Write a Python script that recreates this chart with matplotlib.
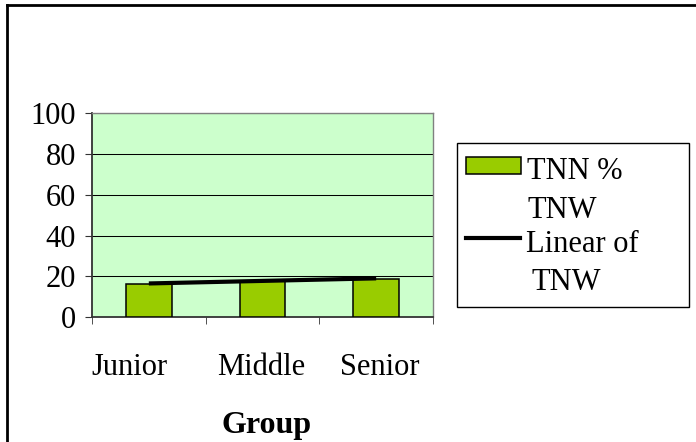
import numpy as np
import matplotlib
matplotlib.use('Agg')
import matplotlib.pyplot as plt
import matplotlib.transforms as mtransforms
from matplotlib.patches import Rectangle
from matplotlib.lines import Line2D

plt.rcParams['font.family'] = ['Liberation Serif', 'DejaVu Serif']

# data
groups = ['Junior', 'Middle', 'Senior']
tnn_pct_tnw = [16.5, 18.0, 19.0]
label_shift_px = [-19, -1, 4]   # Excel spaced the category labels a bit unevenly

W, H = 696, 442
fig = plt.figure(figsize=(W / 100, H / 100), dpi=100)
fig.patch.set_facecolor('white')

def fx(px):
    return px / W

def fy(py):
    return 1 - py / H

# chart area border (left and top visible)
fig.add_artist(Line2D([fx(7), fx(7)], [fy(5), fy(H + 5)], color='black', lw=2))
fig.add_artist(Line2D([fx(7), fx(W + 5)], [fy(5), fy(5)], color='black', lw=2))

ax = fig.add_axes([fx(92), fy(317.3), fx(433) - fx(92), fy(113.2) - fy(317.3)])
ax.set_facecolor('#CCFFCC')

x = np.arange(len(groups))
ax.bar(x, tnn_pct_tnw, width=0.4, color='#99CC00', edgecolor='black', linewidth=1.1, zorder=3)

# linear trend of the bar series
k, b = np.polyfit(x, tnn_pct_tnw, 1)
ax.plot(x[[0, -1]], k * x[[0, -1]] + b, color='black', lw=3, zorder=4, solid_capstyle='butt')

ax.set_xlim(-0.5, len(groups) - 0.5)
ax.set_ylim(0, 100)
ax.set_yticks(np.arange(0, 101, 20))
ax.yaxis.grid(True, color='black', lw=0.75, zorder=1)
ax.set_axisbelow(True)

ax.set_xticks(x)
ax.set_xticklabels(groups)
ax.set_xticks(np.arange(-0.5, len(groups), 1.0), minor=True)
ax.tick_params(axis='x', which='major', length=0, pad=26, labelsize=22)
ax.tick_params(axis='x', which='minor', length=5, direction='out', color='#333333')
ax.tick_params(axis='y', length=5, direction='out', pad=6.5, labelsize=22, color='#333333')

for lab, dx in zip(ax.get_xticklabels(), label_shift_px):
    lab.set_transform(lab.get_transform() + mtransforms.ScaledTranslation(dx / 100, 0, fig.dpi_scale_trans))

for side in ['left', 'bottom']:
    ax.spines[side].set_color('#333333')
    ax.spines[side].set_linewidth(1.3)
for side in ['top', 'right']:
    ax.spines[side].set_color('#808080')
    ax.spines[side].set_linewidth(1.0)

ax.set_xlabel('Group', fontsize=23, fontweight='bold')
ax.xaxis.set_label_coords((267 - 92) / 341, (317.3 - 411) / 204.1)

# legend box
fig.add_artist(Rectangle((fx(457), fy(307)), fx(689) - fx(457), fy(143) - fy(307),
                         facecolor='white', edgecolor='black', lw=1))
fig.add_artist(Rectangle((fx(466), fy(174)), fx(521) - fx(466), fy(157) - fy(174),
                         facecolor='#99CC00', edgecolor='black', lw=1.1))
fig.add_artist(Line2D([fx(466), fx(520)], [fy(238), fy(238)], color='black', lw=3))
legend_lines = [('TNN %', 527, 179), ('TNW', 527, 218), ('Linear of', 526, 252), ('TNW', 532, 290)]
for txt, px, py in legend_lines:
    fig.text(fx(px), fy(py), txt, fontsize=22, ha='left', va='baseline')

fig.savefig('out.png', dpi=100)
